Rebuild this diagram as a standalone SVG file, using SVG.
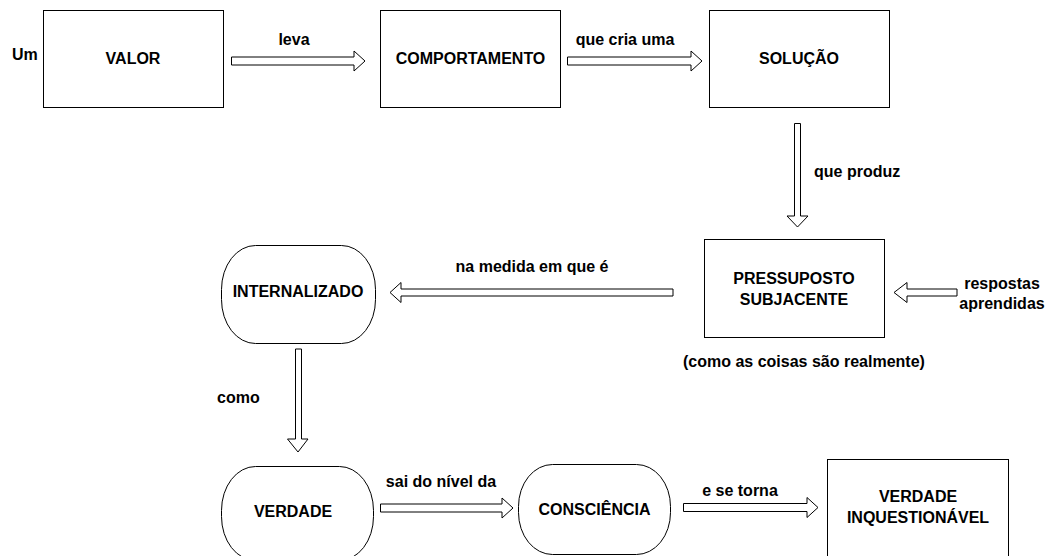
<svg xmlns="http://www.w3.org/2000/svg" width="1047" height="556" viewBox="0 0 1047 556">
<style>
.box{fill:#fff;stroke:#000;stroke-width:1}
.arr{fill:#fff;stroke:#000;stroke-width:1}
text{font-family:"Liberation Sans",Arial,sans-serif;font-size:16px;font-weight:bold;fill:#000}
.c{text-anchor:middle}
</style>
<rect width="1047" height="556" fill="#fff"/>
<g id="connectors">
<polygon class="arr" points="231.5,57 354,57 354,51 365,61 354,71 354,65 231.5,65"/>
<polygon class="arr" points="567.5,57 691,57 691,51 702,61 691,71 691,65 567.5,65"/>
<polygon class="arr" points="794.5,123.5 800.5,123.5 800.5,216 808,216 797.5,227 787,216 794.5,216"/>
<polygon class="arr" points="957,289 907,289 907,282.5 894,292.5 907,302.5 907,296 957,296"/>
<polygon class="arr" points="673,289 401,289 401,282.5 390,292.5 401,302.5 401,296 673,296"/>
<polygon class="arr" points="295.5,349 301.5,349 301.5,439 308,439 298,452 287.5,439 295.5,439"/>
<polygon class="arr" points="380.5,504 502,504 502,498 513,508 502,518 502,512 380.5,512"/>
<polygon class="arr" points="683.5,503.5 807,503.5 807,497.5 818,507.5 807,517.5 807,511.5 683.5,511.5"/>
<text x="294" y="45" class="c">leva</text>
<text x="625" y="45" class="c">que cria uma</text>
<text x="814" y="177">que produz</text>
<text x="1002" y="289" class="c">respostas</text>
<text x="1002" y="309" class="c">aprendidas</text>
<text x="532" y="272" class="c">na medida em que é</text>
<text x="217" y="403">como</text>
<text x="441" y="487" class="c">sai do nível da</text>
<text x="740" y="496" class="c">e se torna</text>
</g>
<g id="um"><text x="12" y="60">Um</text></g>
<g id="valor"><rect class="box" x="43.5" y="10.5" width="180" height="97"/><text x="133" y="64" class="c">VALOR</text></g>
<g id="comportamento"><rect class="box" x="380.5" y="10.5" width="180" height="97"/><text x="470.5" y="64" class="c">COMPORTAMENTO</text></g>
<g id="solucao"><rect class="box" x="709.5" y="10.5" width="180" height="97"/><text x="799" y="64" class="c">SOLUÇÃO</text></g>
<g id="pressuposto"><rect class="box" x="704.5" y="239.5" width="180" height="98"/><text x="794" y="284" class="c">PRESSUPOSTO</text><text x="794" y="304.5" class="c">SUBJACENTE</text></g>
<g id="nota"><text x="683" y="367">(como as coisas são realmente)</text></g>
<g id="internalizado"><rect class="box" x="221.5" y="245.5" width="154" height="98" rx="34" ry="44"/><text x="298" y="297" class="c">INTERNALIZADO</text></g>
<g id="verdade"><rect class="box" x="221.5" y="466.5" width="152" height="94" rx="34" ry="44"/><text x="293" y="517" class="c">VERDADE</text></g>
<g id="consciencia"><rect class="box" x="518.5" y="464.5" width="152" height="90" rx="34" ry="42"/><text x="594.5" y="515" class="c">CONSCIÊNCIA</text></g>
<g id="inquestionavel"><rect class="box" x="827.5" y="459.5" width="181" height="110"/><text x="918" y="502" class="c">VERDADE</text><text x="918" y="523" class="c">INQUESTIONÁVEL</text></g>
</svg>
